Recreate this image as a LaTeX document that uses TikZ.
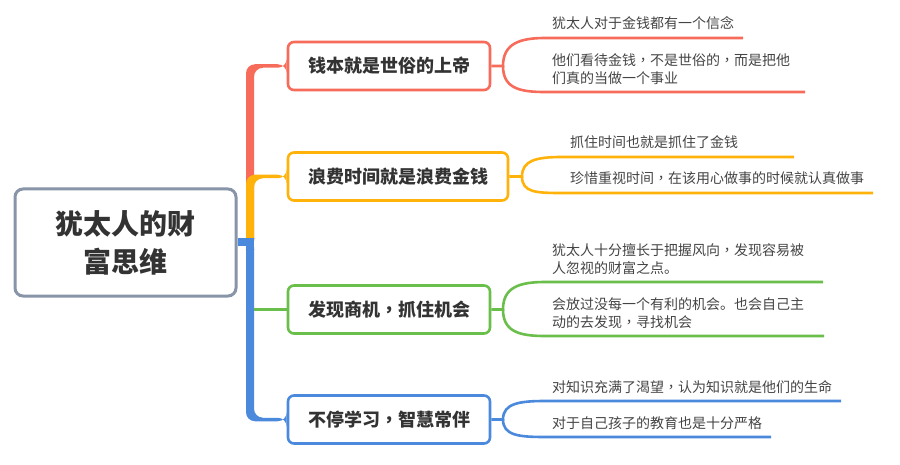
\documentclass[tikz,border=0pt]{standalone}
\usepackage{fontspec}
\setmainfont{Noto Sans CJK SC}
\newfontfamily\tcfont{Noto Sans CJK TC}
\newcommand{\zc}{{\tcfont ，}}
\usetikzlibrary{calc,backgrounds}
\definecolor{cred}{HTML}{F76B5B}
\definecolor{cyel}{HTML}{FFB20A}
\definecolor{cgreen}{HTML}{6ABF4B}
\definecolor{cblue}{HTML}{4A89DC}
\definecolor{cgray}{HTML}{8894A8}
\definecolor{ctext}{HTML}{333333}
\definecolor{cleaf}{HTML}{444444}
\begin{document}
\begin{tikzpicture}[x=1pt,y=-1pt,
  rootbox/.style={draw=cgray, line width=3pt, rounded corners=8pt, fill=white, minimum width=221pt, minimum height=107pt, inner sep=0pt, align=center, text=ctext, font=\bfseries\fontsize{28}{38}\selectfont},
  topic/.style={draw, line width=2.6pt, rounded corners=6pt, fill=white, minimum width=202pt, minimum height=48pt, inner sep=0pt, text=ctext, font=\bfseries\fontsize{18}{22}\selectfont},
  leaf/.style={anchor=base west, inner sep=0pt, align=left, text=cleaf, font=\fontsize{14}{18}\selectfont},
  uline/.style={line width=2.6pt}]
\useasboundingbox (0,0) rectangle (900,465);

\node[rootbox] (root) at (125.5,242.5) {犹太人的财\\富思维};
\node[topic, draw=cred] (b1) at (389,66) {钱本就是世俗的上帝};
\node[topic, draw=cyel, minimum width=220pt] (b2) at (398,176.5) {浪费时间就是浪费金钱};
\node[topic, draw=cgreen] (b3) at (389,309.5) {发现商机\zc 抓住机会};
\node[topic, draw=cblue] (b4) at (389,419.5) {不停学习\zc 智慧常伴};

\begin{scope}[on background layer]
  % red spine
  \fill[cred, rounded corners=9pt] (246,250) -- (246,64.25) -- ($(b1.west)+(0,-1.75)$) -- ($(b1.west)+(0,1.75)$) -- (254,67.75) -- (254,250) -- cycle;
  % yellow spine
  \fill[cyel, rounded corners=9pt] (246,250) -- (246,174.75) -- ($(b2.west)+(0,-1.75)$) -- ($(b2.west)+(0,1.75)$) -- (254,178.25) -- (254,250) -- cycle;
  % blue spine
  \fill[cblue] (root.east |- 0,238.5) rectangle (254,246.5);
  \fill[cblue, rounded corners=9pt] (246,238.5) -- (254,238.5) -- (254,417.75) -- ($(b4.west)+(0,-1.75)$) -- ($(b4.west)+(0,1.75)$) -- (246,421.25) -- cycle;
  \fill[cblue] (246,238.5) rectangle (254,250);
  % green branch
  \draw[cgreen, line width=3.2pt] (254,309.5) -- (b3.west);
\end{scope}

% leaf connectors
\coordinate (s1) at (503,66);
\coordinate (s2) at (522,176.5);
\coordinate (s3) at (503,309.5);
\coordinate (s4) at (503,419.5);

\draw[cred, uline] (b1.east) -- (s1) .. controls +(0,-22) and +(-26,0) .. (545,38) coordinate (a1) -- (743,38) coordinate (a1e);
\draw[cred, uline] (s1) .. controls +(0,22) and +(-26,0) .. (545,92) coordinate (a2) -- (805,92) coordinate (a2e);

\draw[cyel, uline] (b2.east) -- (s2) .. controls +(0,-16) and +(-26,0) .. (562,157) coordinate (c1) -- (794,157) coordinate (c1e);
\draw[cyel, uline] (s2) .. controls +(0,16) and +(-26,0) .. (562,193) coordinate (c2) -- (873,193) coordinate (c2e);

\draw[cgreen, uline] (b3.east) -- (s3) .. controls +(0,-22) and +(-26,0) .. (545,282) coordinate (g1) -- (823,282) coordinate (g1e);
\draw[cgreen, uline] (s3) .. controls +(0,22) and +(-26,0) .. (545,336) coordinate (g2) -- (824,336) coordinate (g2e);

\draw[cblue, uline] (b4.east) -- (s4) .. controls +(0,-16) and +(-26,0) .. (545,401) coordinate (d1) -- (841,401) coordinate (d1e);
\draw[cblue, uline] (s4) .. controls +(0,16) and +(-26,0) .. (545,437) coordinate (d2) -- (771,437) coordinate (d2e);

% leaf texts
\node[leaf] (t11) at (552,29) {犹太人对于金钱都有一个信念};
\node[leaf] (t12) at (552,84) {他们看待金钱\zc 不是世俗的\zc 而是把他\\们真的当做一个事业};
\node[leaf] (t21) at (570,148) {抓住时间也就是抓住了金钱};
\node[leaf] (t22) at (570,184) {珍惜重视时间\zc 在该用心做事的时候就认真做事};
\node[leaf] (t31) at (552,274) {犹太人十分擅长于把握风向\zc 发现容易被\\人忽视的财富之点。};
\node[leaf] (t32) at (552,327) {会放过没每一个有利的机会。也会自己主\\动的去发现\zc 寻找机会};
\node[leaf] (t41) at (552,392) {对知识充满了渴望\zc 认为知识就是他们的生命};
\node[leaf] (t42) at (552,428) {对于自己孩子的教育也是十分严格};
\end{tikzpicture}
\end{document}
